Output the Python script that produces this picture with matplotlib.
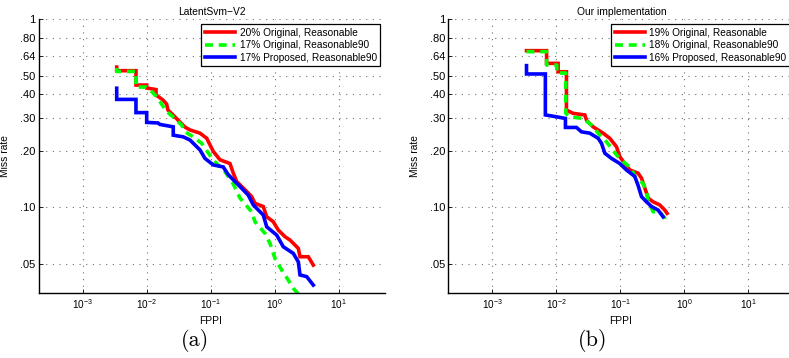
import matplotlib
matplotlib.use("Agg")
import matplotlib.pyplot as plt
from matplotlib.ticker import FixedLocator, FixedFormatter, NullLocator

plt.rcParams['font.family'] = ['Liberation Sans', 'DejaVu Sans']
plt.rcParams['mathtext.fontset'] = 'custom'
plt.rcParams['mathtext.rm'] = 'Liberation Sans'
plt.rcParams['mathtext.it'] = 'Liberation Sans'
plt.rcParams['mathtext.bf'] = 'Liberation Sans'

# ---------------- data ----------------
titles = ["LatentSvm\u2212V2", "Our implementation"]
panel_labels = ["(a)", "(b)"]
legend_a = ["20% Original, Reasonable", "17% Original, Reasonable90", "17% Proposed, Reasonable90"]
legend_b = ["19% Original, Reasonable", "18% Original, Reasonable90", "16% Proposed, Reasonable90"]

ytick_vals = [0.05, 0.10, 0.20, 0.30, 0.40, 0.50, 0.64, 0.80, 1.0]
ytick_labels = [".05", ".10", ".20", ".30", ".40", ".50", ".64", ".80", "1"]
xtick_vals = [1e-3, 1e-2, 1e-1, 1e0, 1e1]
xtick_labels = [r"$10^{-3}$", r"$10^{-2}$", r"$10^{-1}$", r"$10^{0}$", r"$10^{1}$"]

# (a) LatentSvm-V2
a_red_fppi = [0.0034, 0.0034, 0.0068, 0.0068, 0.0100, 0.0100, 0.0140, 0.0140, 0.0180, 0.0205,
              0.0215, 0.0258, 0.0331, 0.0397, 0.0475, 0.068, 0.0866, 0.110, 0.140, 0.200,
              0.2255, 0.255, 0.344, 0.437, 0.492, 0.663, 0.750, 0.951, 1.138, 1.448,
              1.734, 2.338, 2.485, 3.35, 4.01]
a_red_mr = [0.557, 0.533, 0.533, 0.447, 0.447, 0.431, 0.423, 0.396, 0.372, 0.354,
            0.329, 0.310, 0.284, 0.267, 0.258, 0.248, 0.233, 0.198, 0.179, 0.171,
            0.152, 0.137, 0.124, 0.114, 0.105, 0.101, 0.0891, 0.0838, 0.0757, 0.0698,
            0.0670, 0.0605, 0.0546, 0.0546, 0.0493]

a_green_fppi = [0.0034, 0.0034, 0.0068, 0.0068, 0.0100, 0.0113, 0.0143, 0.0205, 0.0258, 0.0352,
                0.0397, 0.0535, 0.0723, 0.1086, 0.167, 0.2255, 0.287, 0.437, 0.492, 0.705,
                0.845, 1.011, 1.287, 1.632, 1.953, 2.485]
a_green_mr = [0.551, 0.528, 0.528, 0.436, 0.436, 0.421, 0.388, 0.323, 0.303, 0.274,
              0.252, 0.237, 0.219, 0.179, 0.155, 0.133, 0.112, 0.0947, 0.0838, 0.0727,
              0.0643, 0.0535, 0.0464, 0.0410, 0.0371, 0.0338]

a_blue_fppi = [0.0034, 0.0034, 0.0068, 0.0068, 0.0100, 0.0100, 0.0150, 0.0161, 0.0260, 0.0260,
               0.0373, 0.0475, 0.0535, 0.068, 0.0815, 0.110, 0.157, 0.186, 0.2255, 0.287,
               0.387, 0.463, 0.663, 0.750, 1.075, 1.362, 1.953, 2.338, 2.485, 3.162, 4.01]
a_blue_mr = [0.430, 0.375, 0.375, 0.319, 0.319, 0.283, 0.281, 0.276, 0.268, 0.242,
             0.237, 0.228, 0.219, 0.202, 0.182, 0.168, 0.164, 0.150, 0.140, 0.129,
             0.116, 0.103, 0.0910, 0.0788, 0.0712, 0.0617, 0.0569, 0.0513, 0.0437, 0.0428, 0.0386]

# (b) Our implementation
b_red_fppi = [0.0034, 0.0070, 0.0070, 0.0106, 0.0106, 0.0143, 0.0143, 0.0182, 0.0277, 0.0297,
              0.0373, 0.0535, 0.068, 0.0866, 0.0975, 0.117, 0.140, 0.188, 0.213, 0.255,
              0.270, 0.323, 0.411, 0.492, 0.535]
b_red_mr = [0.681, 0.681, 0.583, 0.583, 0.526, 0.526, 0.329, 0.316, 0.310, 0.289,
            0.268, 0.248, 0.233, 0.210, 0.186, 0.171, 0.158, 0.152, 0.143, 0.119,
            0.112, 0.107, 0.103, 0.0967, 0.0929]

b_green_fppi = [0.0034, 0.0070, 0.0070, 0.0101, 0.0101, 0.0140, 0.0140, 0.0161, 0.0260, 0.0352,
                0.0475, 0.0604, 0.0723, 0.0866, 0.110, 0.1485, 0.167, 0.2255, 0.255, 0.270,
                0.323, 0.411, 0.492, 0.523]
b_green_mr = [0.673, 0.673, 0.571, 0.571, 0.518, 0.518, 0.316, 0.303, 0.297, 0.274,
              0.242, 0.223, 0.206, 0.190, 0.175, 0.161, 0.146, 0.134, 0.121, 0.109,
              0.0947, 0.0947, 0.0874, 0.0815]

b_blue_fppi = [0.0034, 0.0034, 0.0067, 0.0067, 0.0100, 0.0138, 0.0138, 0.0205, 0.0246, 0.0331,
               0.0447, 0.0505, 0.0569, 0.0723, 0.0975, 0.124, 0.167, 0.188, 0.213, 0.255,
               0.305, 0.387, 0.463]
b_blue_mr = [0.567, 0.512, 0.512, 0.310, 0.303, 0.297, 0.266, 0.266, 0.252, 0.248,
             0.233, 0.219, 0.194, 0.182, 0.171, 0.158, 0.146, 0.131, 0.114, 0.107,
             0.101, 0.0967, 0.0891]

panels = [
    dict(title=titles[0], label=panel_labels[0], legend=legend_a,
         series=[(a_red_fppi, a_red_mr), (a_green_fppi, a_green_mr), (a_blue_fppi, a_blue_mr)]),
    dict(title=titles[1], label=panel_labels[1], legend=legend_b,
         series=[(b_red_fppi, b_red_mr), (b_green_fppi, b_green_mr), (b_blue_fppi, b_blue_mr)]),
]

# ---------------- figure ----------------
W, H = 789, 358
fig = plt.figure(figsize=(W / 100, H / 100), dpi=100)

ax_lefts = [38.5, 448.3]
ax_w = 346.5
ax_top, ax_bot = 19.3, 293.3
label_x = [195, 593]

styles = [dict(color=(1, 0, 0), ls='-'),
          dict(color=(0, 1, 0), ls=(0, (2.2, 1.6))),
          dict(color=(0, 0, 1), ls='-')]

for i, p in enumerate(panels):
    ax = fig.add_axes([ax_lefts[i] / W, 1 - ax_bot / H, ax_w / W, (ax_bot - ax_top) / H])
    ax.set_xscale('log')
    ax.set_yscale('log')
    handles = []
    for (fx, fy), st, lab in zip(p['series'], styles, p['legend']):
        h, = ax.plot(fx, fy, color=st['color'], linestyle=st['ls'], lw=2.6,
                     solid_joinstyle='miter', label=lab, clip_on=True)
        handles.append(h)
    ax.set_xlim(2.04e-4, 52.9)
    ax.set_ylim(0.0349, 1.0)
    ax.xaxis.set_major_locator(FixedLocator(xtick_vals))
    ax.xaxis.set_major_formatter(FixedFormatter(xtick_labels))
    ax.xaxis.set_minor_locator(NullLocator())
    ax.yaxis.set_major_locator(FixedLocator(ytick_vals))
    ax.yaxis.set_major_formatter(FixedFormatter(ytick_labels))
    ax.yaxis.set_minor_locator(NullLocator())
    ax.tick_params(direction='in', length=3, width=0.6, pad=3)
    ax.tick_params(axis='x', labelsize=7.2)
    ax.tick_params(axis='y', labelsize=8, pad=2)
    ax.grid(True, which='major', color='#707070', linestyle=(0, (1, 5)), linewidth=0.8)
    for s in ['top', 'right']:
        ax.spines[s].set_visible(False)
    for s in ['left', 'bottom']:
        ax.spines[s].set_linewidth(1.0)
        ax.spines[s].set_color('black')
    ax.set_title(p['title'], fontsize=7.4, pad=3)
    ax.set_xlabel("FPPI", fontsize=7.4)
    ax.set_ylabel("Miss rate", fontsize=7.4)
    ax.xaxis.set_label_coords(0.498, -0.082)
    ax.yaxis.set_label_coords(-0.082, 0.5)
    leg_left = (ax_lefts[i] + 163) / W
    leg = ax.legend(handles=handles, loc='upper left',
                    bbox_to_anchor=(leg_left, 1 - 24 / H), bbox_transform=fig.transFigure,
                    borderaxespad=0, fontsize=7.3, handlelength=3.0, handletextpad=0.4,
                    labelspacing=0.25, borderpad=0.35, fancybox=False, framealpha=1,
                    edgecolor='black')
    leg.get_frame().set_linewidth(0.9)
    fig.text(label_x[i] / W, 1 - 341 / H, p['label'], family='cmr10', fontsize=16,
             ha='center', va='center')

fig.savefig("out.png", dpi=100)
